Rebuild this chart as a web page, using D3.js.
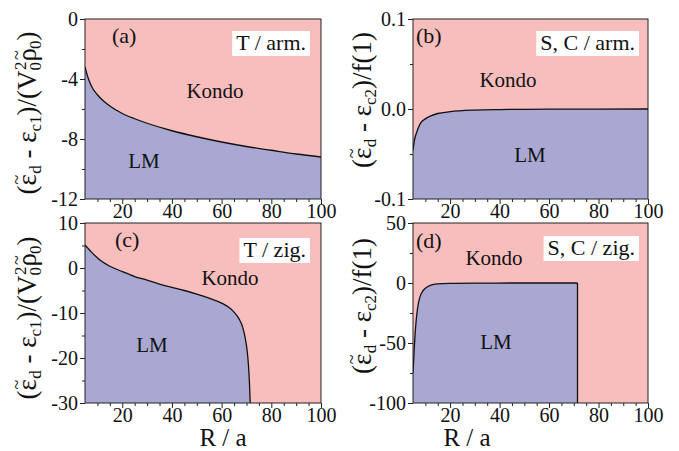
<!DOCTYPE html>
<html>
<head>
<meta charset="utf-8">
<script src="https://cdn.jsdelivr.net/npm/d3@7"></script>
<style>
  body { margin: 0; }
  #chart text, #chart tspan { font-family: 'Liberation Serif', 'Times New Roman', Tinos; }
</style>
</head>
<body>
<div id="chart"></div>
<script>
// phase boundaries (R/a -> scaled energy)
var rA   = [5, 6, 7, 8, 10, 12, 15, 20, 25, 30, 40, 50, 60, 70, 80, 90, 100];
var epsA = [-3.2, -3.8, -4.25, -4.6, -5.05, -5.4, -5.8, -6.3, -6.65, -6.95, -7.45, -7.85, -8.2, -8.5, -8.75, -9.0, -9.2];

var rB   = [5, 5.5, 6, 7, 8, 10, 12, 15, 20, 30, 40, 60, 80, 100];
var epsB = [-0.046, -0.036, -0.03, -0.022, -0.016, -0.011, -0.008, -0.005, -0.003, -0.0012, -0.0006, -0.0002, -0.0001, 0];

var rC   = [5, 8, 11, 15, 20, 25, 30, 35, 40, 45, 50, 55, 60, 63, 65, 67, 68.5, 69.5, 70.3, 70.8, 71.2, 71.5];
var epsC = [5.1, 3.3, 1.8, 0.4, -0.8, -1.9, -2.7, -3.6, -4.3, -5.0, -5.8, -6.7, -7.8, -8.8, -9.8, -11.3, -13.2, -15.6, -18.5, -21.6, -25.5, -30];

var rD   = [5, 5.5, 6, 6.5, 7, 7.5, 8, 9, 10, 12, 15, 20, 30, 50, 71.5];
var epsD = [-75, -55, -38, -27, -19, -14, -10.5, -6.5, -4.3, -2, -0.8, -0.3, -0.1, 0, 0];

var xTicks = [20, 40, 60, 80, 100];
var xMinor = [10, 15, 25, 30, 35, 45, 50, 55, 65, 70, 75, 85, 90, 95];

var yTicksA = [0, -4, -8, -12],       yMinorA = [-2, -6, -10];
var yTicksB = [0.1, 0.0, -0.1],       yMinorB = [0.05, -0.05];
var yTicksC = [10, 0, -10, -20, -30], yMinorC = [5, -5, -15, -25];
var yTicksD = [50, 0, -50, -100],     yMinorD = [25, -25, -75];

var yLabelsB = ["0.1", "0.0", "-0.1"];

var pink = "#f8bebe", blue = "#a8a8d2";
var FONT = "Liberation Serif";

var W = 679, H = 451;
var svg = d3.select("#chart").append("svg").attr("width", W).attr("height", H)
  .attr("font-family", FONT);

function txt(parent) {
  return parent.append("text").attr("font-family", FONT).attr("fill", "#111");
}

var panels = [
  { id: "a", box: [85, 321, 19, 199], yDom: [-12, 0], r: rA, e: epsA, yt: yTicksA, ym: yMinorA,
    tag: "(a)", tagXY: [112, 43], note: "T / arm.", noteXY: [306, 50], kondo: [215, 98], lm: [144, 168] },
  { id: "b", box: [413, 648, 19, 199], yDom: [-0.1, 0.1], r: rB, e: epsB, yt: yTicksB, ym: yMinorB, yl: yLabelsB,
    tag: "(b)", tagXY: [416, 43], note: "S, C / arm.", noteXY: [635, 50], kondo: [508, 87], lm: [530, 162] },
  { id: "c", box: [85, 321, 223, 403], yDom: [-30, 10], r: rC, e: epsC, yt: yTicksC, ym: yMinorC,
    tag: "(c)", tagXY: [115, 247], note: "T / zig.", noteXY: [306, 257], kondo: [230, 285], lm: [152, 352] },
  { id: "d", box: [413, 648, 223, 403], yDom: [-100, 50], r: rD, e: epsD, yt: yTicksD, ym: yMinorD, drop: true,
    tag: "(d)", tagXY: [416, 248], note: "S, C / zig.", noteXY: [635, 255], kondo: [494, 265], lm: [496, 349] }
];

panels.forEach(function (p) {
  var x = d3.scaleLinear().domain([5, 100]).range([p.box[0], p.box[1]]);
  var y = d3.scaleLinear().domain(p.yDom).range([p.box[3], p.box[2]]);
  var pts = p.r.map(function (r, i) { return [r, p.e[i]]; });
  var g = svg.append("g");

  g.append("clipPath").attr("id", "clip-" + p.id).append("rect")
    .attr("x", p.box[0]).attr("y", p.box[2])
    .attr("width", p.box[1] - p.box[0]).attr("height", p.box[3] - p.box[2]);

  var plot = g.append("g").attr("clip-path", "url(#clip-" + p.id + ")");
  plot.append("rect")
    .attr("x", p.box[0]).attr("y", p.box[2])
    .attr("width", p.box[1] - p.box[0]).attr("height", p.box[3] - p.box[2])
    .attr("fill", pink);

  var area = d3.area().x(function (d) { return x(d[0]); })
    .y0(y(p.yDom[0])).y1(function (d) { return y(d[1]); })
    .curve(d3.curveMonotoneX);
  plot.append("path").datum(pts).attr("d", area).attr("fill", blue);

  var line = d3.line().x(function (d) { return x(d[0]); }).y(function (d) { return y(d[1]); })
    .curve(d3.curveMonotoneX);
  plot.append("path").datum(pts).attr("d", line)
    .attr("fill", "none").attr("stroke", "#111").attr("stroke-width", 1.3);

  if (p.drop) {
    var last = pts[pts.length - 1];
    plot.append("line")
      .attr("x1", x(last[0])).attr("x2", x(last[0]))
      .attr("y1", y(last[1])).attr("y2", y(p.yDom[0]))
      .attr("stroke", "#111").attr("stroke-width", 1.3);
  }

  // axes
  g.append("g").attr("transform", "translate(0," + p.box[3] + ")")
    .call(d3.axisBottom(x).tickValues(xTicks).tickSize(5).tickPadding(0).tickFormat(d3.format("d")));
  g.append("g").attr("transform", "translate(0," + p.box[3] + ")")
    .call(d3.axisBottom(x).tickValues(xMinor).tickSize(3).tickFormat(""));
  g.append("g").attr("transform", "translate(" + p.box[0] + ",0)")
    .call(d3.axisLeft(y).tickValues(p.yt).tickSize(5).tickPadding(2)
      .tickFormat(function (d, i) { return p.yl ? p.yl[i] : String(d).replace("\u2212", "-"); }));
  g.append("g").attr("transform", "translate(" + p.box[0] + ",0)")
    .call(d3.axisLeft(y).tickValues(p.ym).tickSize(3).tickFormat(""));

  g.selectAll("g").attr("font-family", FONT);
  g.selectAll(".domain").remove();
  g.selectAll(".tick line").attr("stroke", "#222");
  g.selectAll(".tick text").attr("font-size", 20).attr("fill", "#111")
    .attr("font-family", FONT);

  g.append("rect")
    .attr("x", p.box[0]).attr("y", p.box[2])
    .attr("width", p.box[1] - p.box[0]).attr("height", p.box[3] - p.box[2])
    .attr("fill", "none").attr("stroke", "#222").attr("stroke-width", 1);

  // in-plot text
  txt(g).attr("x", p.tagXY[0]).attr("y", p.tagXY[1])
    .attr("font-size", 22).text(p.tag);

  var note = txt(g).attr("x", p.noteXY[0]).attr("y", p.noteXY[1])
    .attr("text-anchor", "end").attr("font-size", 22).text(p.note);
  var bb = note.node().getBBox();
  g.insert("rect", function () { return note.node(); })
    .attr("x", bb.x - 4).attr("y", bb.y + 1)
    .attr("width", bb.width + 8).attr("height", bb.height)
    .attr("fill", "#fff");

  txt(g).attr("x", p.kondo[0]).attr("y", p.kondo[1])
    .attr("text-anchor", "middle").attr("font-size", 21).text("Kondo");
  txt(g).attr("x", p.lm[0]).attr("y", p.lm[1])
    .attr("text-anchor", "middle").attr("font-size", 21).text("LM");
});

// y-axis titles; the tilde is set as its own small glyph over the epsilon / rho
function tilde(t, back) {
  t.append("tspan").attr("font-size", 18).attr("dx", back).attr("dy", -13).text("~");
  t.append("tspan").attr("font-size", 1).attr("dy", 13).text("\u200a");
}
function yTitle(cx, cy, sub, tail) {
  var t = txt(svg)
    .attr("transform", "translate(" + cx + "," + cy + ") rotate(-90)")
    .attr("text-anchor", "middle").attr("font-size", 27).attr("dy", "0.35em");
  t.append("tspan").text("(\u03b5");
  tilde(t, -10.5);
  t.append("tspan").attr("font-size", 17).attr("dx", 1).attr("dy", 5).text("d");
  t.append("tspan").attr("dy", -5).text(" - \u03b5");
  t.append("tspan").attr("font-size", 17).attr("dy", 5).text(sub);
  t.append("tspan").attr("dy", -5).text(")/");
  tail(t);
}
function tailV(t) {
  t.append("tspan").text("(V");
  t.append("tspan").attr("font-size", 17).attr("dy", 5).text("0");
  t.append("tspan").attr("font-size", 17).attr("dx", -8).attr("dy", -15).text("2");
  t.append("tspan").attr("dy", 10).text("\u03c1");
  tilde(t, -12);
  t.append("tspan").attr("font-size", 17).attr("dx", 1).attr("dy", 5).text("0");
  t.append("tspan").attr("dy", -5).text(")");
}
function tailF(t) {
  t.append("tspan").text("f(1)");
}
yTitle(27, 113, "c1", tailV);
yTitle(27, 318, "c1", tailV);
yTitle(362, 100, "c2", tailF);
yTitle(362, 306, "c2", tailF);

// x-axis titles
txt(svg).attr("x", 223).attr("y", 446).attr("text-anchor", "middle")
  .attr("font-size", 25).text("R / a");
txt(svg).attr("x", 467).attr("y", 446).attr("text-anchor", "middle")
  .attr("font-size", 25).text("R / a");
</script>
</body>
</html>
